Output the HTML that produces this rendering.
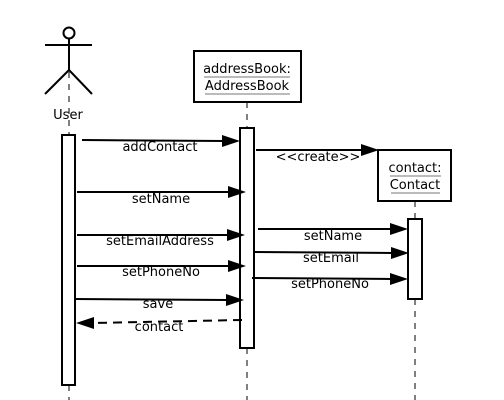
<!DOCTYPE html>
<html><head><meta charset="utf-8"><style>
html,body{margin:0;padding:0;background:#fff;}
svg{display:block;}
svg text{font-family:"DejaVu Sans","Liberation Sans",sans-serif;font-size:13px;fill:#000;}
</style></head><body>
<svg width="504" height="400" viewBox="0 0 504 400" xmlns="http://www.w3.org/2000/svg" font-size="13" font-family="DejaVu Sans, Liberation Sans, sans-serif">
<g stroke="#000" fill="none" stroke-width="2">
  <circle cx="69" cy="33" r="5.5"/>
  <line x1="45" y1="45" x2="92" y2="45"/>
  <line x1="69" y1="38" x2="69" y2="70"/>
  <line x1="69" y1="70" x2="45" y2="94"/>
  <line x1="69" y1="70" x2="92" y2="94"/>
</g>
<g stroke="#000" stroke-width="1" stroke-dasharray="6,6">
  <line x1="69" y1="72" x2="69" y2="135"/>
  <line x1="69" y1="385" x2="69" y2="400"/>
  <line x1="247" y1="102" x2="247" y2="128"/>
  <line x1="247" y1="348" x2="247" y2="400"/>
  <line x1="415" y1="201" x2="415" y2="219"/>
  <line x1="415" y1="299" x2="415" y2="400"/>
</g>
<text x="68" y="119" text-anchor="middle">User</text>
<g stroke="#000" stroke-width="2" fill="#fff">
  <rect x="194" y="51" width="107" height="51"/>
  <rect x="378" y="150" width="73" height="51"/>
  <rect x="62" y="135" width="13" height="250"/>
  <rect x="240" y="128" width="14" height="220"/>
  <rect x="408" y="219" width="14" height="80"/>
</g>
<text x="247" y="73" text-anchor="middle">addressBook:</text>
<text x="247" y="90" text-anchor="middle">AddressBook</text>
<line x1="204" y1="77" x2="290" y2="77" stroke="#777" stroke-width="1"/>
<line x1="205" y1="94" x2="290" y2="94" stroke="#777" stroke-width="1"/>
<text x="415" y="172" text-anchor="middle">contact:</text>
<text x="415" y="189" text-anchor="middle">Contact</text>
<line x1="390" y1="176" x2="441" y2="176" stroke="#777" stroke-width="1"/>
<line x1="391" y1="193" x2="440" y2="193" stroke="#777" stroke-width="1"/>

<g stroke="#000" stroke-width="2">
  <line x1="82" y1="140" x2="225" y2="141"/>
  <line x1="256" y1="150" x2="362" y2="150"/>
  <line x1="77" y1="192" x2="229" y2="192"/>
  <line x1="77" y1="235" x2="229" y2="235"/>
  <line x1="77" y1="266" x2="229" y2="266"/>
  <line x1="74" y1="299" x2="228" y2="300"/>
  <line x1="242" y1="320" x2="92" y2="323" stroke-dasharray="9,6"/>
  <line x1="258" y1="229" x2="392" y2="229"/>
  <line x1="254" y1="252" x2="393" y2="253"/>
  <line x1="252" y1="278" x2="393" y2="279"/>
</g>
<g fill="#000">
  <polygon points="240,141 222,135 222,147"/>
  <polygon points="379,150 361,144 361,156"/>
  <polygon points="246,192 228,186 228,198"/>
  <polygon points="245,235 227,229 227,241"/>
  <polygon points="246,266 228,260 228,272"/>
  <polygon points="244,300 226,294 226,306"/>
  <polygon points="76,323 94,317 94,329"/>
  <polygon points="408,229 390,223 390,235"/>
  <polygon points="409,253 391,247 391,259"/>
  <polygon points="408,279 390,273 390,285"/>
</g>
<text x="160" y="151" text-anchor="middle">addContact</text>
<text x="318" y="161" text-anchor="middle">&lt;&lt;create&gt;&gt;</text>
<text x="161" y="203" text-anchor="middle">setName</text>
<text x="160" y="245" text-anchor="middle">setEmailAddress</text>
<text x="161" y="276" text-anchor="middle">setPhoneNo</text>
<text x="158" y="308" text-anchor="middle">save</text>
<text x="159" y="331" text-anchor="middle">contact</text>
<text x="333" y="240" text-anchor="middle">setName</text>
<text x="331" y="262" text-anchor="middle">setEmail</text>
<text x="330" y="288" text-anchor="middle">setPhoneNo</text>
</svg>
</body></html>
